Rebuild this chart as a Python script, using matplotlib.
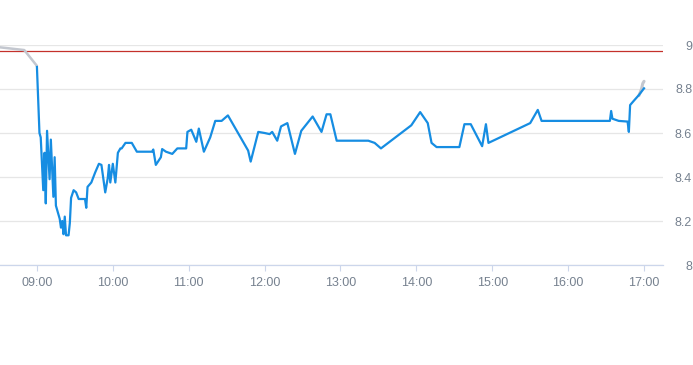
'''Intraday price chart'''

import matplotlib
matplotlib.use('Agg')
import matplotlib.pyplot as plt

# intraday trade prices (time, price)
times = ['09:00', '09:02', '09:03', '09:05', '09:06', '09:07', '09:08', '09:10',
         '09:11', '09:13', '09:14', '09:15', '09:18', '09:19', '09:20', '09:21',
         '09:22', '09:23', '09:25', '09:26', '09:27', '09:29', '09:31', '09:33',
         '09:38', '09:39', '09:40', '09:43', '09:46', '09:49', '09:51', '09:54',
         '09:56', '09:57', '09:58', '10:00', '10:02', '10:04', '10:06', '10:07',
         '10:10', '10:15', '10:19', '10:31', '10:32', '10:34', '10:38', '10:39',
         '10:42', '10:47', '10:51', '10:58', '10:59', '11:02', '11:06', '11:08',
         '11:12', '11:17', '11:21', '11:26', '11:31', '11:34', '11:47', '11:49',
         '11:55', '12:00', '12:04', '12:06', '12:10', '12:13', '12:18', '12:24',
         '12:29', '12:38', '12:45', '12:49', '12:52', '12:57', '13:22', '13:27',
         '13:32', '13:56', '14:03', '14:09', '14:12', '14:16', '14:34', '14:38',
         '14:43', '14:52', '14:55', '14:57', '15:30', '15:36', '15:39', '16:33',
         '16:34', '16:35', '16:40', '16:47', '16:48', '16:49', '16:52', '16:56',
         '17:00']
prices = [8.90, 8.60, 8.58, 8.34, 8.51, 8.28, 8.61, 8.39,
          8.57, 8.31, 8.49, 8.27, 8.21, 8.17, 8.20, 8.14,
          8.22, 8.135, 8.135, 8.19, 8.305, 8.34, 8.33, 8.30,
          8.30, 8.26, 8.355, 8.375, 8.42, 8.46, 8.455, 8.33,
          8.395, 8.455, 8.375, 8.46, 8.375, 8.51, 8.53, 8.53,
          8.555, 8.555, 8.515, 8.515, 8.525, 8.455, 8.49, 8.527,
          8.515, 8.505, 8.53, 8.53, 8.605, 8.615, 8.56, 8.62,
          8.515, 8.58, 8.655, 8.655, 8.68, 8.65, 8.52, 8.47,
          8.605, 8.60, 8.595, 8.605, 8.565, 8.63, 8.645, 8.505,
          8.61, 8.675, 8.605, 8.685, 8.685, 8.565, 8.565, 8.555,
          8.53, 8.635, 8.695, 8.645, 8.555, 8.536, 8.536, 8.64,
          8.64, 8.54, 8.64, 8.555, 8.645, 8.705, 8.655, 8.655,
          8.70, 8.665, 8.655, 8.652, 8.605, 8.727, 8.747, 8.773,
          8.803]

# out-of-session prices (grey)
pre_times = ['08:30', '08:50', '09:00']
pre_prices = [8.99, 8.977, 8.905]
post_times = ['16:56', '16:58', '16:59', '17:00']
post_prices = [8.77, 8.80, 8.825, 8.835]

prev_close = 8.973

xtick_labels = ['09:00', '10:00', '11:00', '12:00', '13:00', '14:00',
                '15:00', '16:00', '17:00']
yticks = [8, 8.2, 8.4, 8.6, 8.8, 9]
ytick_labels = ['8', '8.2', '8.4', '8.6', '8.8', '9']


def minutes(labels):
    '''Minutes after 09:00 for a list of HH:MM strings.'''
    out = []
    for lab in labels:
        h, m = lab.split(':')
        out.append((int(h) - 9) * 60 + int(m))
    return out


plt.rcParams['font.family'] = ['Liberation Sans', 'DejaVu Sans']

fig = plt.figure(figsize=(6.93, 3.65), dpi=100)
ax = fig.add_axes([0.0, 100 / 365, 663 / 693, 220 / 365])

label_color = '#76818f'
axis_color = '#ccd6eb'

ax.plot(minutes(pre_times), pre_prices, color='#c3c7cf', linewidth=1.8,
        solid_capstyle='round', zorder=3)
ax.plot(minutes(post_times), post_prices, color='#c3c7cf', linewidth=2.2,
        solid_capstyle='round', zorder=3)
ax.plot(minutes(times), prices, color='#168de2', linewidth=1.6,
        solid_joinstyle='round', zorder=4)
ax.axhline(prev_close, color='#c4312b', linewidth=0.9, zorder=2)

ax.set_xlim(-29.2, 495)
ax.set_ylim(8, 9)

ax.set_xticks(minutes(xtick_labels))
ax.set_xticklabels(xtick_labels)
ax.set_yticks(yticks)
ax.set_yticklabels(ytick_labels)

ax.yaxis.tick_right()
ax.grid(True, axis='y', color='#e6e6e6', linewidth=0.9, zorder=0)
for side in ['top', 'left', 'right']:
    ax.spines[side].set_visible(False)
ax.spines['bottom'].set_color(axis_color)
ax.spines['bottom'].set_linewidth(0.9)

ax.tick_params(axis='x', length=4, width=0.8, color=axis_color, pad=5,
               labelsize=9, labelcolor=label_color)
ax.tick_params(axis='y', length=0, pad=21, labelsize=9,
               labelcolor=label_color)
for lab in ax.get_yticklabels():
    lab.set_horizontalalignment('right')

fig.savefig('out.png', dpi=100)
